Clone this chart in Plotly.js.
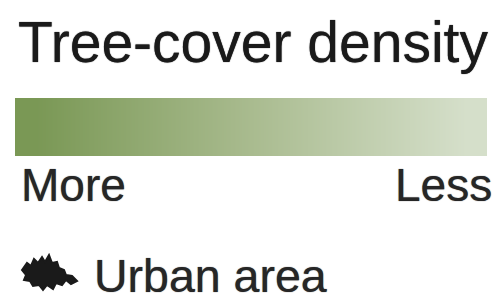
<!DOCTYPE html>
<html>
<head>
<meta charset="utf-8">
<script src="https://cdn.plot.ly/plotly-3.0.1.min.js"></script>
<style>html,body{margin:0;padding:0;background:#fff;}#chart{width:495px;height:305px;}</style>
</head>
<body>
<div id="chart"></div>
<script>
// Legend data
const titleText = "Tree-cover density";
const densityLevels = [100, 90, 80, 70, 60, 50, 40, 30, 20, 10, 0];
const scaleLabels = ["More", "Less"];
const urbanLabel = "Urban area";
const colorStops = [[0, "#d5dfca"], [0.5, "#a9bb8f"], [1, "#7a9855"]];

const fontFam = "Liberation Sans, Arial, Helvetica, sans-serif";

const heat = {
  type: "heatmap",
  z: [densityLevels],
  x: densityLevels.map((_, i) => i),
  y: [0],
  colorscale: colorStops,
  zsmooth: "best",
  showscale: false,
  hoverinfo: "skip",
  xaxis: "x", yaxis: "y"
};

const dummy = {type:"scatter", x:[0], y:[0], xaxis:"x2", yaxis:"y2", mode:"markers", marker:{opacity:0}, hoverinfo:"skip", showlegend:false};

const layout = {
  width: 495, height: 305,
  margin: {l:0, r:0, t:0, b:0},
  paper_bgcolor: "#ffffff", plot_bgcolor: "rgba(0,0,0,0)",
  showlegend: false,
  xaxis: {domain:[15/495, 487/495], visible:false, range:[-0.5, densityLevels.length-0.5], fixedrange:true, anchor:"y"},
  yaxis: {domain:[1-156/305, 1-98/305], visible:false, range:[-0.5,0.5], fixedrange:true, anchor:"x"},
  xaxis2: {domain:[0,1], range:[0,495], visible:false, anchor:"y2"},
  yaxis2: {domain:[0,1], range:[305,0], visible:false, anchor:"x2"},
  annotations: [
    {xref:"x2", yref:"y2", x:16, y:42, xanchor:"left", yanchor:"middle", text:titleText, showarrow:false,
     font:{family:fontFam, size:57, color:"#1a1a1a", shadow:"0 0 1px #1a1a1a"}},
    {xref:"x2", yref:"y2", x:19, y:185, xanchor:"left", yanchor:"middle", text:scaleLabels[0], showarrow:false,
     font:{family:fontFam, size:46, color:"#262626", shadow:"0 0 1px #444"}},
    {xref:"x2", yref:"y2", x:494, y:185, xanchor:"right", yanchor:"middle", text:scaleLabels[1], showarrow:false,
     font:{family:fontFam, size:46, color:"#262626", shadow:"0 0 1px #444"}},
    {xref:"x2", yref:"y2", x:92, y:276, xanchor:"left", yanchor:"middle", text:urbanLabel, showarrow:false,
     font:{family:fontFam, size:46.5, color:"#262626", shadow:"0 0 1px #444"}}
  ],
  shapes: [
    {type:"path", xref:"x2", yref:"y2",
     path:"M22,270 L27,263 L31,266 L34,259 L38,263 L42,257 L45,262 L49,255 L52,263 L57,262 L59,268 L64,270 L66,275 L72,276 L77,281 L71,284 L66,280 L62,285 L56,283 L53,289 L47,285 L43,290 L39,285 L33,286 L30,281 L24,280 L26,275 Z",
     fillcolor:"#1a1a1a", line:{color:"#1a1a1a", width:2}}
  ]
};

Plotly.newPlot("chart", [heat, dummy], layout, {staticPlot:true, displayModeBar:false});
</script>
</body>
</html>
